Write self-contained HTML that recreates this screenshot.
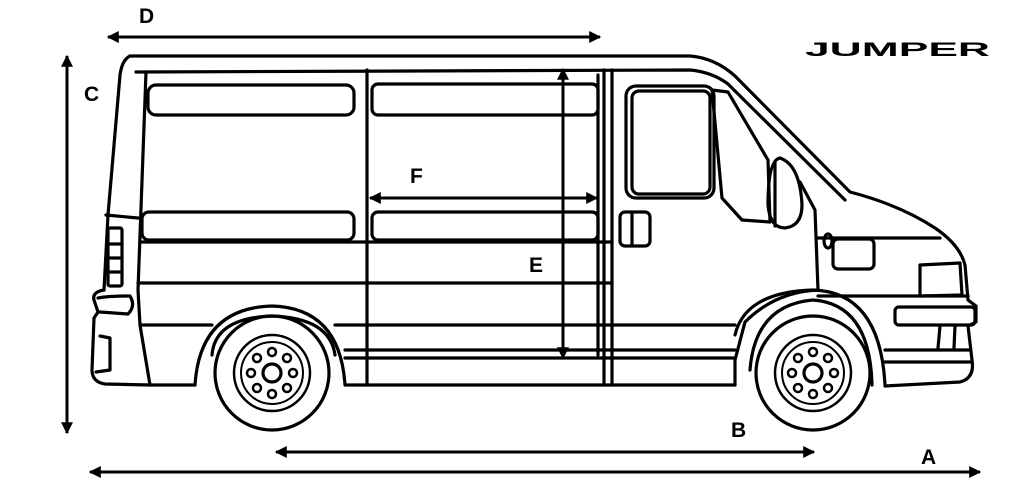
<!DOCTYPE html>
<html><head><style>html,body{margin:0;padding:0;background:#fff}svg{display:block}
text{font-family:"Liberation Sans",sans-serif;font-weight:bold;fill:#000}</style></head>
<body>
<svg width="1016" height="483" viewBox="0 0 1016 483" xmlns="http://www.w3.org/2000/svg">
<defs><marker id="ah" viewBox="0 0 10 10" refX="9" refY="5" markerWidth="4" markerHeight="4" orient="auto-start-reverse"><path d="M0,0L10,5L0,10z" fill="#000"/></marker></defs>
<g fill="none" stroke="#000" stroke-width="3.2" stroke-linejoin="round" stroke-linecap="round">
<path d="M130,56 L690,56 Q715,58 735,76 L850,192 Q900,205 935,228 Q960,245 965,265 L968,300 L976,306 L976,322 L968,326 L972,360 Q975,378 960,382 L885,386"/>
<path d="M130,56 Q122,60 120,75 L108,215 L104,290"/>
<path d="M136,72 L690,70 Q712,72 728,84 L845,200"/>
<path d="M146,72 L138,290 L140,325 L150,385"/>
<path d="M106,215 L138,218"/>
<rect x="108" y="228" width="14" height="58" rx="2"/>
<path d="M110,244h12M110,258h12M110,272h12"/>
<path d="M104,290 Q92,292 94,300 L98,312 L94,318 L92,370 Q92,382 105,384 L150,385 L195,385"/>
<path d="M98,298 Q108,296 130,296 Q136,306 128,314 L100,312"/>
<path d="M100,336 L110,338 L110,370 L96,372"/>
<path d="M140,325 L212,325"/>
<path d="M195,385 Q200,308 272,306 Q340,308 345,385 L735,385"/>
<path d="M212,355 Q215,318 272,316 Q330,318 335,355"/>
<path d="M140,242 L612,242"/><path d="M138,283 L612,283"/>
<path d="M335,325 L735,325"/><path d="M345,350 L735,350"/><path d="M345,358 L735,358"/>
<rect x="148" y="85" width="206" height="30" rx="8"/>
<rect x="142" y="212" width="212" height="28" rx="7"/>
<rect x="372" y="84" width="226" height="31" rx="6"/>
<rect x="372" y="212" width="226" height="28" rx="6"/>
<path d="M367,70 L367,385"/><path d="M604,70 L604,385"/><path d="M612,70 L612,385"/>
<path d="M598,75 L598,355"/>
<rect x="626" y="86" width="88" height="112" rx="10"/>
<rect x="632" y="91" width="78" height="103" rx="7"/>
<path d="M712,90 L722,198 L742,220 L770,222 L768,160 L728,92 Z"/>
<path d="M780,158 Q768,160 768,205 Q770,228 785,228 Q802,226 802,205 Q800,165 780,158 Z"/>
<path d="M775,162 L775,226"/>
<rect x="620" y="212" width="30" height="34" rx="5"/><path d="M632,214v30"/>
<path d="M800,182 L815,210 L818,290 Q775,292 745,322 L735,360 L735,385"/>
<ellipse cx="828" cy="241" rx="4" ry="7"/>
<rect x="833" y="239" width="41" height="30" rx="5"/>
<path d="M735,335 Q745,292 813,290 Q880,292 885,385"/>
<path d="M750,370 Q755,305 813,300 Q870,304 872,385"/>
<path d="M920,265 L960,263 L962,295 L920,296 Z"/>
<path d="M818,296 L968,296"/>
<rect x="895" y="307" width="80" height="18" rx="4"/>
<path d="M885,350 L970,350 M885,362 L972,362 M940,326 L938,348 M955,326 L954,348"/>
<path d="M818,238 L940,238"/>
<circle cx="272" cy="373" r="57"/><circle cx="272" cy="373" r="38" stroke-width="2.5"/>
<circle cx="272" cy="373" r="31" stroke-width="2"/><circle cx="272" cy="373" r="9"/>
<circle cx="813" cy="373" r="57"/><circle cx="813" cy="373" r="38" stroke-width="2.5"/>
<circle cx="813" cy="373" r="31" stroke-width="2"/><circle cx="813" cy="373" r="9"/>
</g>
<g fill="none" stroke="#000" stroke-width="2.5">
<circle cx="272" cy="352" r="4"/><circle cx="287" cy="358" r="4"/><circle cx="293" cy="373" r="4"/><circle cx="287" cy="388" r="4"/><circle cx="272" cy="394" r="4"/><circle cx="257" cy="388" r="4"/><circle cx="251" cy="373" r="4"/><circle cx="257" cy="358" r="4"/>
<circle cx="813" cy="352" r="4"/><circle cx="828" cy="358" r="4"/><circle cx="834" cy="373" r="4"/><circle cx="828" cy="388" r="4"/><circle cx="813" cy="394" r="4"/><circle cx="798" cy="388" r="4"/><circle cx="792" cy="373" r="4"/><circle cx="798" cy="358" r="4"/>
</g>
<g stroke="#000" stroke-width="3" marker-start="url(#ah)" marker-end="url(#ah)">
<line x1="108" y1="37" x2="600" y2="37"/>
<line x1="67" y1="56" x2="67" y2="433"/>
<line x1="90" y1="472" x2="980" y2="472"/>
<line x1="276" y1="452" x2="814" y2="452"/>
<line x1="370" y1="198" x2="597" y2="198"/>
<line x1="563" y1="69" x2="563" y2="358"/>
</g>
<g font-size="21">
<text x="139" y="23">D</text><text x="84" y="101">C</text><text x="410" y="183">F</text>
<text x="529" y="272">E</text><text x="731" y="437">B</text><text x="921" y="464">A</text>
</g>
<text x="805" y="56" font-size="19" textLength="185" lengthAdjust="spacingAndGlyphs">JUMPER</text>
</svg>
</body></html>
